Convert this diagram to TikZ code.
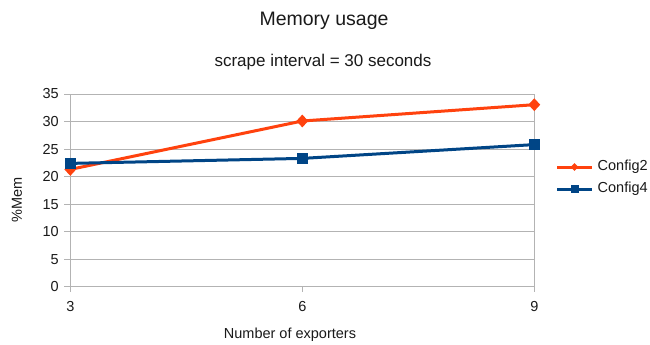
\documentclass[tikz,border=0pt]{standalone}
\usepackage{fontspec}
\setmainfont{Liberation Sans}
\usetikzlibrary{shapes.geometric}
\definecolor{cfgtwo}{HTML}{FF420E}
\definecolor{cfgfour}{HTML}{004586}
\definecolor{gridgray}{HTML}{B3B3B3}
\definecolor{inktext}{HTML}{1A1A1A}
\begin{document}
\begin{tikzpicture}[x=1pt,y=-1pt,
  gridline/.style={draw=gridgray,line width=0.9pt},
  ticklabel/.style={font=\fontsize{14.5}{17}\selectfont,text=inktext,inner sep=0pt},
  serieslineA/.style={draw=cfgtwo,line width=3pt,line join=round},
  serieslineB/.style={draw=cfgfour,line width=3pt,line join=round},
  diamark/.style={diamond,fill=cfgtwo,inner sep=0pt,minimum width=12pt,minimum height=13pt},
  sqmark/.style={rectangle,fill=cfgfour,inner sep=0pt,minimum size=11pt},
  diamarksmall/.style={diamond,fill=cfgtwo,inner sep=0pt,minimum width=8pt,minimum height=8pt},
  sqmarksmall/.style={rectangle,fill=cfgfour,inner sep=0pt,minimum size=8pt}]
\fill[white] (0,0) rectangle (650,345);
\useasboundingbox (0,0) rectangle (650,345);

% titles
\node[font=\fontsize{19.5}{22}\selectfont,text=inktext] (title) at (324,21) {Memory usage};
\node[font=\fontsize{17}{20}\selectfont,text=inktext] (subtitle) at (323,62) {scrape interval = 30 seconds};

% horizontal grid lines, y ticks and labels (5.506pt per unit, 0 at 286.7)
\foreach \v in {0,5,...,35} {
  \pgfmathsetmacro{\yy}{286.7-5.506*\v}
  \draw[gridline] (64,\yy) -- (534.3,\yy);
  \node[ticklabel,anchor=east] (ylab\v) at (59,\yy) {\v};
}
% axes and right border
\draw[gridline] (70.3,94) -- (70.3,292);
\draw[gridline] (302.3,286.7) -- (302.3,292);
\draw[gridline] (534.3,94) -- (534.3,292);

% x labels
\node[ticklabel] (xlab3) at (70.3,306.7) {3};
\node[ticklabel] (xlab6) at (302.3,306.7) {6};
\node[ticklabel] (xlab9) at (534.3,306.7) {9};

% axis titles
\node[ticklabel,rotate=90] (ytitle) at (17,199.5) {\%Mem};
\node[ticklabel] (xtitle) at (290,335) {Number of exporters};

% data points
\coordinate (a1) at (70.3,169.4);
\coordinate (a2) at (302.3,121.0);
\coordinate (a3) at (534.3,104.7);
\coordinate (b1) at (70.3,163.4);
\coordinate (b2) at (302.3,158.4);
\coordinate (b3) at (534.3,144.6);

% Config2 series
\draw[serieslineA] (a1) -- (a2) -- (a3);
\foreach \p in {a1,a2,a3} \node[diamark] (m\p) at (\p) {};
% Config4 series
\draw[serieslineB] (b1) -- (b2) -- (b3);
\foreach \p in {b1,b2,b3} \node[sqmark] (m\p) at (\p) {};

% legend
\coordinate (la0) at (557,167);
\coordinate (la1) at (592,167);
\coordinate (lb0) at (557,189);
\coordinate (lb1) at (592,189);
\draw[serieslineA] (la0) -- (la1);
\node[diamarksmall] (lam) at (574.5,167) {};
\node[ticklabel,anchor=west] (latext) at (597.5,167) {Config2};
\draw[serieslineB] (lb0) -- (lb1);
\node[sqmarksmall] (lbm) at (574.5,189) {};
\node[ticklabel,anchor=west] (lbtext) at (597.5,189) {Config4};
\end{tikzpicture}
\end{document}
